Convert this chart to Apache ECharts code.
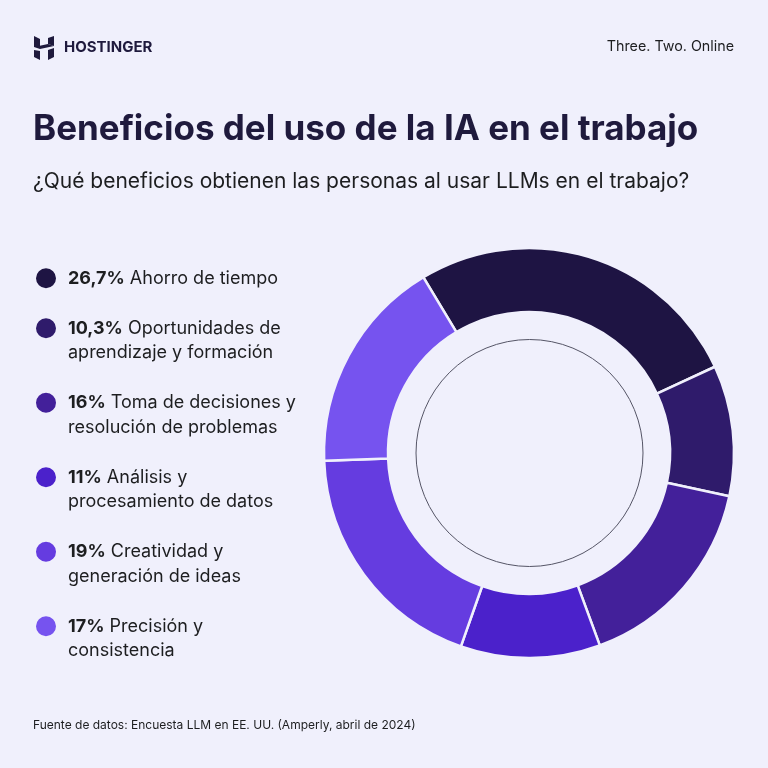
<!DOCTYPE html>
<html lang="es">
<head>
    <meta charset="UTF-8">
    <title>Beneficios del uso de la IA en el trabajo</title>
    <script src="https://cdn.jsdelivr.net/npm/echarts@6/dist/echarts.min.js"></script>
    <style>
        html, body { margin: 0; padding: 0; background: #f0f0fc; }
    </style>
</head>
<body>
<div style="width:768px;height:768px" id="myChart"></div>
<script type="text/javascript">
    // datos de la encuesta
    var percentLabels = ['26,7%', '10,3%', '16%', '11%', '19%', '17%'];
    var values = [26.7, 10.3, 16, 11, 19, 17];
    var lineOne = ['Ahorro de tiempo', 'Oportunidades de', 'Toma de decisiones y',
        'Análisis y', 'Creatividad y', 'Precisión y'];
    var lineTwo = ['', 'aprendizaje y formación', 'resolución de problemas',
        'procesamiento de datos', 'generación de ideas', 'consistencia'];
    var colors = ['#1e1443', '#2f1b6b', '#43209a', '#4b21cb', '#653ce0', '#7653ef'];

    var names = lineOne.map(function (t, i) {
        return lineTwo[i] ? t + ' ' + lineTwo[i] : t;
    });
    var pieData = values.map(function (v, i) {
        return {value: v, name: names[i]};
    });

    var font = 'Inter, "Noto Sans", sans-serif';
    var dark = '#1d1e20';
    var navy = '#1f1a3d';

    var myChart = echarts.init(document.getElementById('myChart'));
    myChart.setOption({
        backgroundColor: '#f0f0fc',
        color: colors,
        animation: false,
        legend: {
            orient: 'vertical',
            left: 34,
            top: 266,
            padding: 0,
            itemGap: 1,
            itemWidth: 22,
            itemHeight: 22,
            icon: 'circle',
            selectedMode: false,
            data: names,
            formatter: function (name) {
                var i = names.indexOf(name);
                if (lineTwo[i]) {
                    return '\n{b|' + percentLabels[i] + '} ' + lineOne[i] + '\n' + lineTwo[i];
                }
                return '{b|' + percentLabels[i] + '} ' + lineOne[i];
            },
            textStyle: {
                fontFamily: font,
                fontSize: 18,
                color: dark,
                lineHeight: 24.5,
                padding: [0, 0, 0, 6],
                rich: {
                    b: {fontFamily: font, fontSize: 18, fontWeight: 'bold', color: dark, lineHeight: 24.5}
                }
            }
        },
        series: [{
            name: 'Beneficios',
            type: 'pie',
            center: [529, 453],
            radius: [141, 205],
            startAngle: 121,
            clockwise: true,
            silent: true,
            label: {show: false},
            labelLine: {show: false},
            itemStyle: {borderColor: '#f0f0fc', borderWidth: 2.5},
            data: pieData
        }],
        graphic: [
            // logo
            {type: 'polygon', shape: {points: [[34, 36], [40, 39], [40, 47], [34, 47]]}, style: {fill: navy}},
            {type: 'polygon', shape: {points: [[48, 38], [54, 36], [54, 46], [48, 44]]}, style: {fill: navy}},
            {type: 'polygon', shape: {points: [[34, 47], [48, 44], [54, 46], [40, 49]]}, style: {fill: navy}},
            {type: 'polygon', shape: {points: [[34, 50], [40, 51], [40, 60], [34, 57]]}, style: {fill: navy}},
            {type: 'polygon', shape: {points: [[48, 50], [54, 48], [54, 57], [48, 60]]}, style: {fill: navy}},
            {type: 'text', left: 64, top: 40, style: {text: 'HOSTINGER', font: 'bold 15px ' + font, fill: navy}},
            {type: 'text', right: 34, top: 40, style: {text: 'Three. Two. Online', font: '14.3px ' + font, fill: dark}},
            // titulo
            {type: 'text', left: 33, top: 112, style: {text: 'Beneficios del uso de la IA en el trabajo', font: 'bold 35px ' + font, fill: navy}},
            {type: 'text', left: 33, top: 171, style: {text: '¿Qué beneficios obtienen las personas al usar LLMs en el trabajo?', font: '21px ' + font, fill: dark}},
            {type: 'text', left: 33, top: 719, style: {text: 'Fuente de datos: Encuesta LLM en EE. UU. (Amperly, abril de 2024)', font: '12px ' + font, fill: dark}},
            // circulo interior
            {type: 'circle', silent: true, shape: {cx: 529.5, cy: 453, r: 113.5}, style: {fill: 'none', stroke: '#555566', lineWidth: 1}}
        ]
    });
</script>
</body>
</html>
